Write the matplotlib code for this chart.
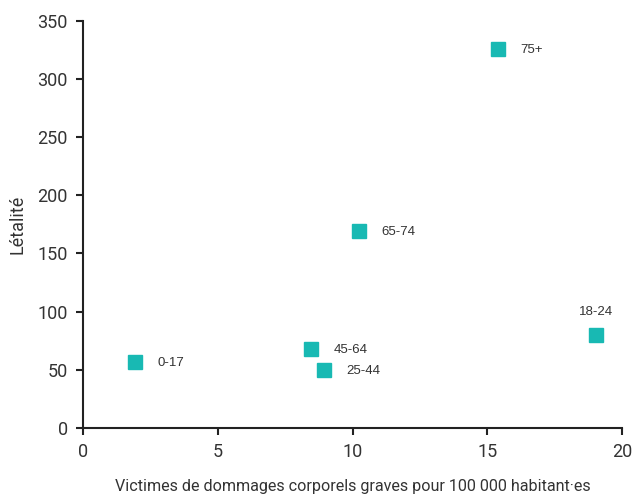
import matplotlib
matplotlib.use("Agg")
import matplotlib.pyplot as plt

plt.rcParams['font.family'] = ['Roboto', 'DejaVu Sans']

# data
groups = ["0-17", "18-24", "25-44", "45-64", "65-74", "75+"]
victims = [1.93, 19.04, 8.94, 8.46, 10.24, 15.4]
lethality = [56.7, 80.0, 49.9, 67.9, 169.4, 325.9]

teal = "#18b9b3"
text_col = "#333333"

fig = plt.figure(figsize=(6.33, 4.97), dpi=100)
ax = fig.add_axes([0.131, 0.139, 0.852, 0.819])

ax.plot(victims, lethality, "s", color=teal, markersize=10, linestyle="none")

for g, x, y in zip(groups, victims, lethality):
    if g == "18-24":
        ax.annotate(g, (x, y), xytext=(0, 12), textcoords="offset points",
                    ha="center", va="bottom", fontsize=9.5, color=text_col,
                    family=["Liberation Sans", "DejaVu Sans"])
    else:
        ax.annotate(g, (x, y), xytext=(16, -1), textcoords="offset points",
                    ha="left", va="center", fontsize=9.5, color=text_col,
                    family=["Liberation Sans", "DejaVu Sans"])

ax.set_xlim(0, 20)
ax.set_ylim(0, 350)
ax.set_xticks(range(0, 21, 5))
ax.set_yticks(range(0, 351, 50))

for s in ["top", "right"]:
    ax.spines[s].set_visible(False)
for s in ["left", "bottom"]:
    ax.spines[s].set_linewidth(1.5)
    ax.spines[s].set_color("#222222")
ax.tick_params(direction="out", length=5, width=1.5, color="#222222",
               labelsize=13, labelcolor=text_col, pad=6)

ax.set_xlabel("Victimes de dommages corporels graves pour 100 000 habitant·es",
              fontsize=11.6, color=text_col, labelpad=13)
ax.set_ylabel("Létalité", fontsize=13, color=text_col, labelpad=8)

fig.savefig("out.png", dpi=100)
